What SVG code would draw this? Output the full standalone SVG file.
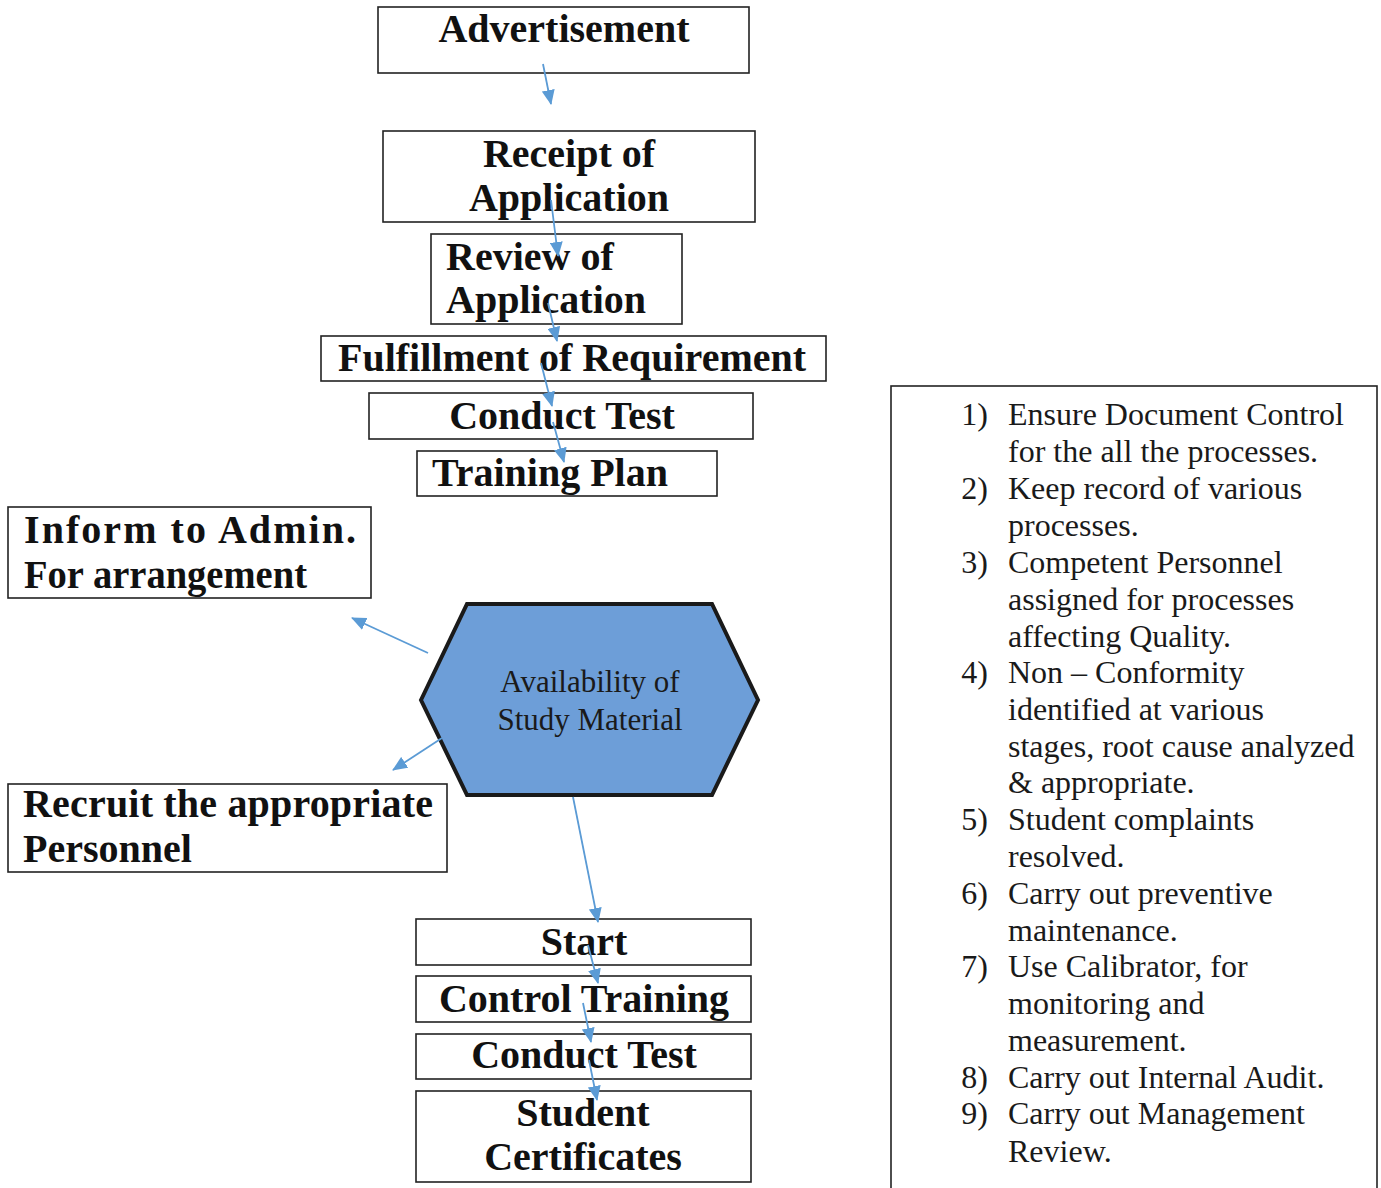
<svg xmlns="http://www.w3.org/2000/svg" width="1381" height="1188" viewBox="0 0 1381 1188">
<style>
.box{fill:#fff;stroke:#222;stroke-width:1.6}
.bt{font-family:"Liberation Serif","Times New Roman",serif;font-weight:bold;font-size:40px;fill:#111}
.c{text-anchor:middle}
.hex{fill:#6d9ed8;stroke:#1a1a1a;stroke-width:4;stroke-linejoin:miter}
.ht{font-family:"Liberation Serif","Times New Roman",serif;font-size:31px;fill:#1a1a1a;text-anchor:middle}
.rt{font-family:"Liberation Serif","Times New Roman",serif;font-size:32px;fill:#1a1a1a}
.num{text-anchor:end}
.con{stroke:#5b9bd5;stroke-width:1.8;fill:none;marker-end:url(#ah)}
</style>
<defs>
<marker id="ah" markerUnits="userSpaceOnUse" markerWidth="15" markerHeight="13" viewBox="0 0 15 13" refX="14" refY="6.5" orient="auto">
<path d="M0,0 L15,6.5 L0,13 Z" fill="#5b9bd5"/>
</marker>
</defs>
<rect width="1381" height="1188" fill="#fff"/>

<g id="advertisement">
<rect class="box" x="378" y="7" width="371" height="66"/>
<text class="bt c" x="564" y="42">Advertisement</text>
</g>
<g id="receipt">
<rect class="box" x="383" y="131" width="372" height="91"/>
<text class="bt c" x="569" y="167">Receipt of</text>
<text class="bt c" x="569" y="211">Application</text>
</g>
<g id="review">
<rect class="box" x="431" y="234" width="251" height="90"/>
<text class="bt" x="446" y="270">Review of</text>
<text class="bt" x="446" y="313">Application</text>
</g>
<g id="fulfillment">
<rect class="box" x="321" y="336" width="505" height="45"/>
<text class="bt c" x="572" y="371">Fulfillment of Requirement</text>
</g>
<g id="conduct-test-1">
<rect class="box" x="369" y="393" width="384" height="46"/>
<text class="bt c" x="562" y="429">Conduct Test</text>
</g>
<g id="training-plan">
<rect class="box" x="417" y="451" width="300" height="45"/>
<text class="bt c" x="550" y="486">Training Plan</text>
</g>
<g id="inform-admin">
<rect class="box" x="8" y="507" width="363" height="91"/>
<text class="bt" x="24" y="543" textLength="332" lengthAdjust="spacing">Inform to Admin.</text>
<text class="bt" x="24" y="588" textLength="283" lengthAdjust="spacingAndGlyphs">For arrangement</text>
</g>
<g id="availability">
<polygon class="hex" points="421,700 467,604 712,604 758,700 712,795 467,795"/>
<text class="ht" x="590" y="692">Availability of</text>
<text class="ht" x="590" y="730">Study Material</text>
</g>
<g id="recruit">
<rect class="box" x="8" y="784" width="439" height="88"/>
<text class="bt" x="23" y="817" textLength="410" lengthAdjust="spacing">Recruit the appropriate</text>
<text class="bt" x="23" y="862">Personnel</text>
</g>
<g id="start">
<rect class="box" x="416" y="919" width="335" height="46"/>
<text class="bt c" x="584" y="955">Start</text>
</g>
<g id="control-training">
<rect class="box" x="416" y="976" width="335" height="46"/>
<text class="bt c" x="584" y="1012">Control Training</text>
</g>
<g id="conduct-test-2">
<rect class="box" x="416" y="1034" width="335" height="45"/>
<text class="bt c" x="584" y="1068">Conduct Test</text>
</g>
<g id="student-certificates">
<rect class="box" x="416" y="1091" width="335" height="91"/>
<text class="bt c" x="583" y="1126">Student</text>
<text class="bt c" x="583" y="1170">Certificates</text>
</g>

<g id="notes">
<rect class="box" x="891" y="386" width="486" height="820"/>
<g class="rt">
<text class="num" x="988" y="425">1)</text><text x="1008" y="425">Ensure Document Control</text>
<text x="1008" y="462">for the all the processes.</text>
<text class="num" x="988" y="499">2)</text><text x="1008" y="499">Keep record of various</text>
<text x="1008" y="536">processes.</text>
<text class="num" x="988" y="573">3)</text><text x="1008" y="573">Competent Personnel</text>
<text x="1008" y="610">assigned for processes</text>
<text x="1008" y="647">affecting Quality.</text>
<text class="num" x="988" y="683">4)</text><text x="1008" y="683">Non – Conformity</text>
<text x="1008" y="720">identified at various</text>
<text x="1008" y="757">stages, root cause analyzed</text>
<text x="1008" y="793">&amp; appropriate.</text>
<text class="num" x="988" y="830">5)</text><text x="1008" y="830">Student complaints</text>
<text x="1008" y="867">resolved.</text>
<text class="num" x="988" y="904">6)</text><text x="1008" y="904">Carry out preventive</text>
<text x="1008" y="941">maintenance.</text>
<text class="num" x="988" y="977">7)</text><text x="1008" y="977">Use Calibrator, for</text>
<text x="1008" y="1014">monitoring and</text>
<text x="1008" y="1051">measurement.</text>
<text class="num" x="988" y="1088">8)</text><text x="1008" y="1088">Carry out Internal Audit.</text>
<text class="num" x="988" y="1124">9)</text><text x="1008" y="1124">Carry out Management</text>
<text x="1008" y="1162">Review.</text>
</g>
</g>

<g id="connectors">
<line class="con" x1="543" y1="64" x2="551" y2="104"/>
<line class="con" x1="551" y1="200" x2="558" y2="256"/>
<line class="con" x1="548" y1="303" x2="557" y2="341"/>
<line class="con" x1="541" y1="363" x2="552" y2="406"/>
<line class="con" x1="553" y1="422" x2="564" y2="462"/>
<line class="con" x1="428" y1="653" x2="352" y2="618"/>
<line class="con" x1="442" y1="738" x2="393" y2="770"/>
<line class="con" x1="573" y1="797" x2="598" y2="922"/>
<line class="con" x1="588" y1="945" x2="598" y2="983"/>
<line class="con" x1="583" y1="1003" x2="591" y2="1042"/>
<line class="con" x1="589" y1="1060" x2="597" y2="1100"/>
</g>
</svg>
